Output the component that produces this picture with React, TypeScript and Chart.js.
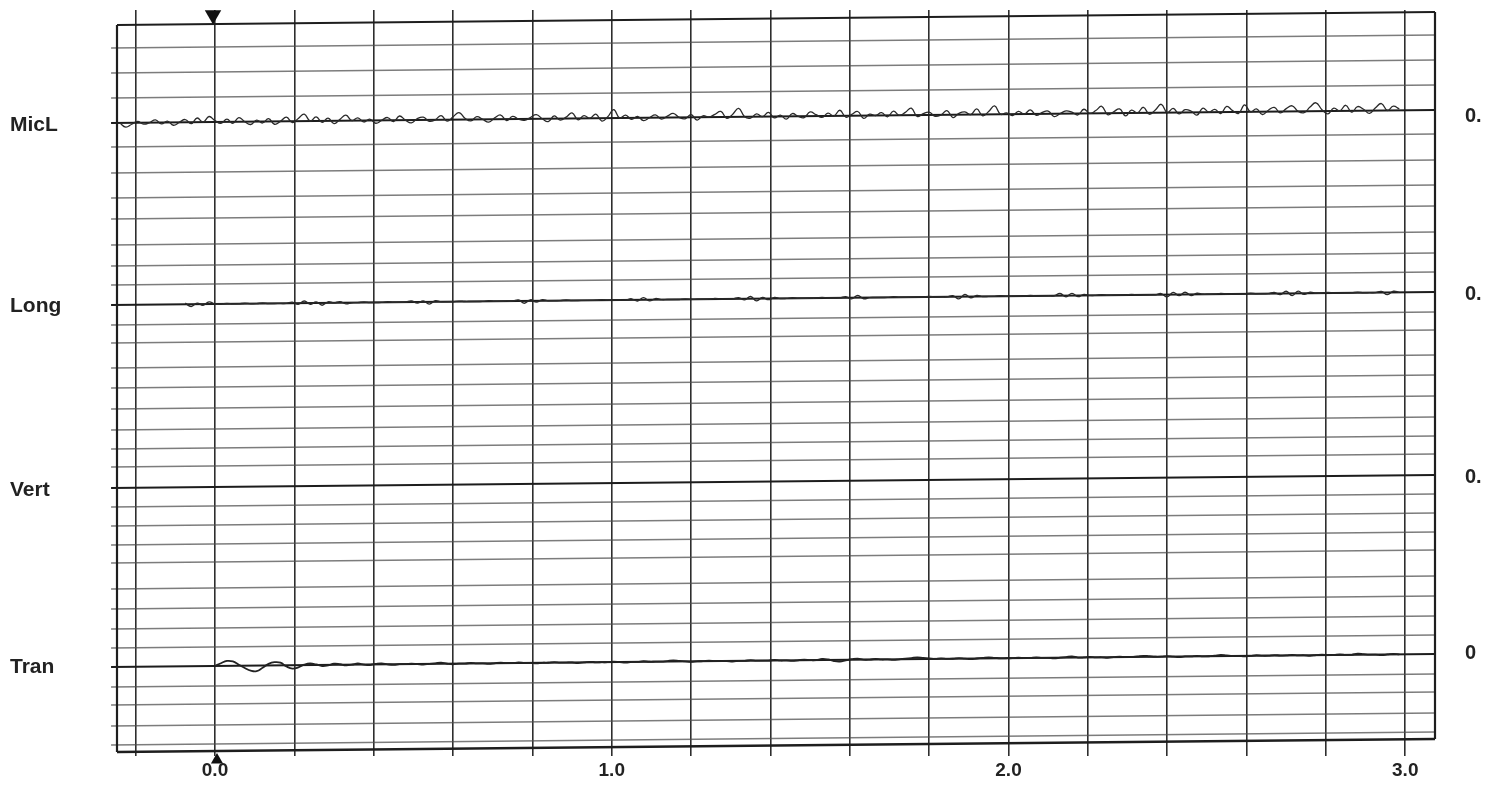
import React, { useEffect, useRef } from 'react';
import { Chart, registerables } from 'chart.js';

Chart.register(...registerables);

// ---- axis / sampling ----
const X_MIN = -0.247;
const X_MAX = 3.075;
const X_TICKS = [-0.2, 0, 0.2, 0.4, 0.6, 0.8, 1.0, 1.2, 1.4, 1.6, 1.8, 2.0, 2.2, 2.4, 2.6, 2.8, 3.0];
const SAMPLE_START = -0.24;
const SAMPLE_STEP = 0.015;
const Y_MIN = -4;
const Y_MAX = 742;

// ---- chart paper (values read at left edge; paper is slightly skewed) ----
const GRID_LEFT = [704, 679, 654, 629, 605, 579, 554, 533, 507, 486, 467, 447, 427, 409, 384, 364, 343, 322, 303, 285, 264, 245, 226, 207, 189, 163, 143, 123, 104, 85, 65, 47, 26, 7];
const TOP_BORDER = 727;
const BOTTOM_BORDER = 0;
const SKEW = 13;

// ---- channels ----
const CHANNELS = ['MicL', 'Long', 'Vert', 'Tran'];
const CHANNEL_BASE = [629, 447, 264, 85];
const CHANNEL_GAIN = [1.4, 1.1, 1, 1.1];
const LEFT_LABEL_POS = [627, 446, 262, 85];
const RIGHT_LABELS = ['0.', '0.', '0.', '0'];
const RIGHT_LABEL_POS = [636, 458, 275, 99];

// ---- traces (offsets from channel baseline, one sample per 0.015 s from -0.24 s) ----
const MICL = [
  0, -3, -1, 1, -1, 0, 2, -1, 1, -2, 0, 2, -1, 3, 0, 4, 1, -1,
  2, -1, 3, 0, -2, 1, -1, 2, -2, 0, 3, -1, 2, 5, 0, 3, -1, 2,
  -2, 1, 4, 0, 2, -1, 1, -2, 0, 2, -1, 3, 0, -2, 1, 2, -1, 0,
  3, -1, 2, 5, 1, -1, 2, 0, -2, 1, 3, -1, 2, 0, -1, 1, 3, 0,
  -2, 2, -1, 1, 4, -1, 2, 0, 3, -2, 1, 6, 0, 2, -1, 1, -2, 0,
  2, -1, 1, 3, 0, -1, 2, -2, 1, 0, 2, 4, -1, 2, 6, 0, -1, 2,
  0, 3, -1, 1, -2, 2, 0, -1, 3, 1, -1, 2, 0, 4, -1, 1, 3, -2,
  1, 0, 2, -1, 3, 0, 2, 5, -1, 1, 2, -1, 0, 3, -2, 1, 2, 0,
  4, -1, 2, 6, 0, 1, -1, 2, 0, 3, -1, 1, 2, -2, 0, 2, 1, -1,
  3, 0, 2, 5, -1, 1, 3, -2, 2, 0, 4, -1, 2, 6, 0, 3, -1, 2,
  1, -2, 3, 0, 2, -1, 4, 1, -1, 5, 0, 2, -2, 1, 3, -1, 2, 4,
  0, -1, 3, 6, 1, -2, 2, 0, 4, -1, 3, 1, -2, 2, 5, 0, 3, 1,
];

const LONG = [
  null, null, null, null, null, null, null, null, null, null, null,
  1, -2, 1, -1, 2, 0,
  0, 0.5, 0, 0, 0.5, 0, 0, 0.5, 0, 0, 0, 0,
  1, -1, 2, -1, 1, -2, 1, 0, 1, -1,
  0, 0, 0.5, 0, 0, 0, 0.5, 0, 0, 0,
  1, -1, 1, -2, 1, 0,
  0, 0, 0.5, 0, 0, 0, 0, 0.5, 0, 0, 0, 0,
  1, -2, 1, -1, 1,
  0, 0, 0, 0.5, 0, 0, 0, 0, 0, 0.5, 0, 0, 0, 0,
  1, -1, 2, -1, 1, 0,
  0, 0, 0, 0.5, 0, 0, 0, 0, 0.5, 0, 0, 0,
  1, -1, 2, -2, 1, -1, 1,
  0, 0, 0.5, 0, 0, 0, 0, 0.5, 0, 0, 0,
  1, -1, 2, -1, 0,
  0, 0, 0, 0.5, 0, 0, 0, 0, 0, 0.5, 0, 0, 0,
  1, -2, 2, -1, 1,
  0, 0, 0, 0.5, 0, 0, 0, 0, 0.5, 0, 0, 0, 0,
  2, -1, 2, -1, 1,
  0, 0, 0.5, 0, 0, 0, 0, 0.5, 0, 0, 0, 0,
  1, -2, 2, -1, 2, -1, 1,
  0, 0, 0, 0.5, 0, 0, 0, 0, 0.5, 0, 0, 0,
  1, -1, 2, -2, 2, -1, 1,
  0, 0, 0.5, 0, 0, 0, 0, 0.5, 0, 0, 0,
  1, -2, 1, 0,
];

const TRAN = [
  null, null, null, null, null, null, null, null, null, null, null, null, null, null, null, null,
  0, 2.5, 4.5, 4, 1, -2, -4.5, -5, -2, 1.5, 3, 2.5, -1, -3, -2, 0.5, 1.5, 0.5, -1, -0.5, 1, 0.5, -0.5, 0, 1, 0, -0.5, 0.5, 1, 0, -0.5, 0,
  0, 0.5, 0, -0.5, 0, 0.5, 1, 0, -0.5, 0, 0, 0.5, 0, 0, -0.5, 0, 0.5, 0, 0, 0.5, 0,
  0, -0.5, 0, 0, 0.5, 0, 0, 0, -0.5, 0, 0.5, 0, 0, 0, 0.5, 0, -0.5, 0, 0, 0.5, 0,
  0, 0, 0.5, 1, 0.5, 0, -0.5, 0, 0, 0.5, 0, 0, 0, -0.5, 0, 0, 0.5, 0, 0, 0, 0.5,
  0, 0, -0.5, 0, 0.5, 0, 0, 1, 0.5, -1, -1.5, -0.5, 0.5, 1, 0, 0, 0.5, 0, 0, -0.5, 0,
  0.5, 1, 1.5, 1, 0.5, 0, 0.5, 0, 0, 0.5, 0, -0.5, 0, 0.5, 1, 0.5, 0, 0, 0, 0.5, 0,
  0, 0.5, 0, 0, -0.5, 0, 0.5, 1, 0, 0, 0.5, 0, 0, -0.5, 0, 0.5, 0, 0, 0.5, 1, 0.5,
  0, 0, 0.5, 0, -0.5, 0, 0, 0.5, 0, 0, 0.5, 1, 0.5, 0, 0, -0.5, 0, 0.5, 0, 0, 0.5,
  0, 0, 0.5, 0, 0, -0.5, 0, 0.5, 0, 0, 0.5, 0, 0, 1, 0.5, 0, 0, -0.5, 0, 0.5, 0,
];

// markers at time zero
const MARK_TOP = { x: -0.005, y: 737 };
const MARK_BOTTOM = { x: 0.005, y: -8 };

const FONT = '"Liberation Sans", Arial, sans-serif';

function skewAt(x: number) {
  return (SKEW * (x - X_MIN)) / (X_MAX - X_MIN);
}

function traceData(base: number, gain: number, offsets: (number | null)[]) {
  return offsets.map((o, i) => {
    const x = SAMPLE_START + i * SAMPLE_STEP;
    return { x, y: o === null ? null : base + skewAt(x) + o * gain };
  });
}

export default function App() {
  const ref = useRef<HTMLCanvasElement | null>(null);

  useEffect(() => {
    document.body.style.margin = '0';
    const canvas = ref.current;
    if (!canvas) return;

    const datasets: any[] = [];

    datasets.push({
      data: traceData(CHANNEL_BASE[0], CHANNEL_GAIN[0], MICL),
      borderColor: '#2a2a2a', borderWidth: 1.3, tension: 0.45, pointRadius: 0,
    });
    datasets.push({
      data: traceData(CHANNEL_BASE[1], CHANNEL_GAIN[1], LONG),
      borderColor: '#2a2a2a', borderWidth: 1.4, tension: 0.45, pointRadius: 0, spanGaps: false,
    });
    datasets.push({
      data: traceData(CHANNEL_BASE[3], CHANNEL_GAIN[3], TRAN),
      borderColor: '#222', borderWidth: 1.8, tension: 0.45, pointRadius: 0, spanGaps: false,
    });

    // time-zero markers
    datasets.push({
      data: [MARK_TOP], showLine: false, pointStyle: 'triangle', pointRadius: 9.5, rotation: 180,
      backgroundColor: '#111', borderColor: '#111', borderWidth: 0, clip: false,
    });
    datasets.push({
      data: [MARK_BOTTOM], showLine: false, pointStyle: 'triangle', pointRadius: 7,
      backgroundColor: '#111', borderColor: '#111', borderWidth: 0, clip: false,
    });

    // paper border
    datasets.push({
      data: [{ x: X_MIN, y: TOP_BORDER }, { x: X_MAX, y: TOP_BORDER + SKEW }],
      borderColor: '#1e1e1e', borderWidth: 2.2, pointRadius: 0, clip: false,
    });
    datasets.push({
      data: [{ x: X_MIN, y: BOTTOM_BORDER }, { x: X_MAX, y: BOTTOM_BORDER + SKEW }],
      borderColor: '#1e1e1e', borderWidth: 2.4, pointRadius: 0, clip: false,
    });
    datasets.push({
      data: [{ x: X_MIN, y: BOTTOM_BORDER }, { x: X_MIN, y: TOP_BORDER }],
      borderColor: '#1e1e1e', borderWidth: 2.2, pointRadius: 0, clip: false,
    });
    datasets.push({
      data: [{ x: X_MAX, y: BOTTOM_BORDER + SKEW }, { x: X_MAX, y: TOP_BORDER + SKEW }],
      borderColor: '#1e1e1e', borderWidth: 2.2, pointRadius: 0, clip: false,
    });

    // horizontal paper lines
    GRID_LEFT.forEach((g) => {
      const isBase = CHANNEL_BASE.includes(g);
      datasets.push({
        data: [{ x: X_MIN - 0.015, y: g }, { x: X_MAX, y: g + SKEW }],
        borderColor: isBase ? '#1c1c1c' : 'rgba(80,80,80,0.75)',
        borderWidth: isBase ? 1.8 : 1.3,
        pointRadius: 0,
        clip: false,
      });
    });

    const noPadV = (scale: any, w: number) => {
      scale.width = w;
      scale.paddingTop = 0;
      scale.paddingBottom = 0;
    };

    const chart = new Chart(canvas, {
      type: 'line',
      data: { datasets },
      options: {
        animation: false,
        responsive: false,
        devicePixelRatio: 1,
        layout: { padding: { top: 10, left: 10, right: 0, bottom: 0 } },
        plugins: { legend: { display: false }, tooltip: { enabled: false } },
        scales: {
          x: {
            type: 'linear',
            min: X_MIN,
            max: X_MAX,
            afterBuildTicks: (scale: any) => {
              scale.ticks = X_TICKS.map((v) => ({ value: v }));
            },
            afterFit: (scale: any) => {
              scale.height = 31;
              scale.paddingLeft = 0;
              scale.paddingRight = 0;
            },
            grid: { color: '#2e2e2e', lineWidth: 1.6, drawTicks: false },
            border: { display: false },
            ticks: {
              autoSkip: false,
              maxRotation: 0,
              padding: 3,
              color: '#222',
              font: { family: FONT, size: 19, weight: 'bold' },
              callback: (v: any) => {
                const n = Number(v);
                return Math.abs(n - Math.round(n)) < 1e-6 ? n.toFixed(1) : '';
              },
            },
          },
          y: {
            type: 'linear',
            position: 'left',
            min: Y_MIN,
            max: Y_MAX,
            afterBuildTicks: (scale: any) => {
              scale.ticks = LEFT_LABEL_POS.map((v) => ({ value: v }));
            },
            afterFit: (scale: any) => noPadV(scale, 107),
            grid: { display: false },
            border: { display: false },
            ticks: {
              autoSkip: false,
              crossAlign: 'far',
              color: '#222',
              font: { family: FONT, size: 21, weight: 'bold' },
              callback: (_v: any, i: number) => CHANNELS[i],
            },
          },
          yR: {
            type: 'linear',
            position: 'right',
            min: Y_MIN,
            max: Y_MAX,
            afterBuildTicks: (scale: any) => {
              scale.ticks = RIGHT_LABEL_POS.map((v) => ({ value: v }));
            },
            afterFit: (scale: any) => noPadV(scale, 51),
            grid: { display: false },
            border: { display: false },
            ticks: {
              autoSkip: false,
              padding: 22,
              color: '#222',
              font: { family: FONT, size: 20, weight: 'bold' },
              callback: (_v: any, i: number) => RIGHT_LABELS[i],
            },
          },
        },
      } as any,
    });

    return () => chart.destroy();
  }, []);

  return (
    <div style={{ width: 1486, height: 787, background: '#fff' }}>
      <canvas ref={ref} width={1486} height={787} style={{ display: 'block' }} />
    </div>
  );
}
